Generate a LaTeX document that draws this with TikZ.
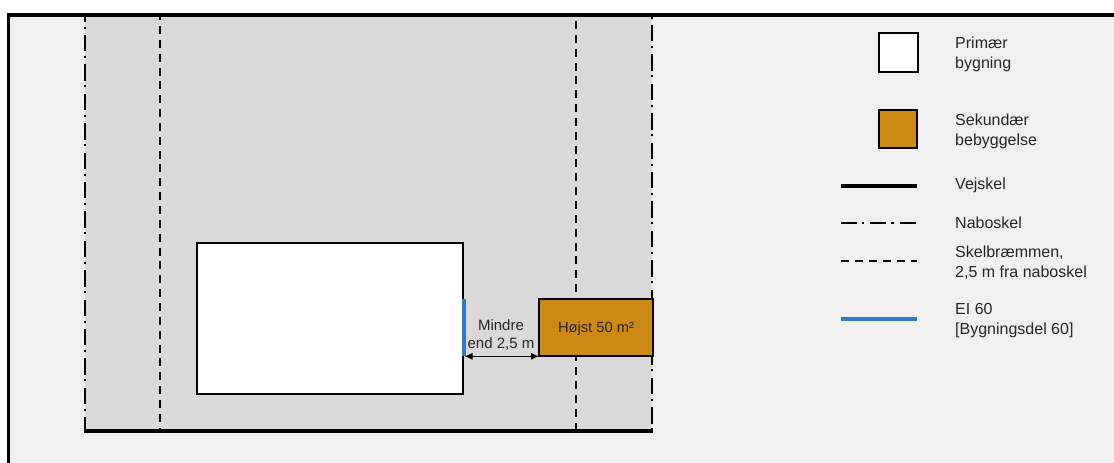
\documentclass[tikz,border=0pt]{standalone}
\usepackage{fontspec}
\setmainfont{Liberation Sans}
\usetikzlibrary{arrows.meta}
\definecolor{bgpale}{HTML}{F0F0F0}
\definecolor{plotgray}{HTML}{D9D9D9}
\definecolor{ochre}{HTML}{CC8A14}
\definecolor{elblue}{HTML}{2E7BC4}
\definecolor{txt}{HTML}{262626}
\tikzset{
  x=1pt,y=-1pt,
  boxp/.style={draw=black,line width=2pt,fill=white,inner sep=0pt,outer sep=0pt},
  boxs/.style={draw=black,line width=2.2pt,fill=ochre,inner sep=0pt,outer sep=0pt},
  lab/.style={font=\fontsize{16}{19.6}\selectfont,text=txt,anchor=west,align=left,inner sep=0pt},
  vejline/.style={line width=3.8pt},
  naboline/.style={line width=2.2pt,dash pattern=on 16.3pt off 4.6pt on 2pt off 6.5pt},
  skelline/.style={line width=2.2pt,dash pattern=on 8pt off 5.85pt},
  naboleg/.style={line width=1.9pt,dash pattern=on 16pt off 5pt on 2.3pt off 6pt},
  skelleg/.style={line width=1.9pt,dash pattern=on 7.7pt off 6.3pt},
  elline/.style={color=elblue,line width=3.4pt},
  dimline/.style={{Latex[length=8pt,width=7pt]}-{Latex[length=8pt,width=7pt]},line width=1.1pt}
}
\begin{document}
\begin{tikzpicture}
\useasboundingbox (0,0) rectangle (1114,463);
\fill[white] (0,0) rectangle (1114,463);
\fill[bgpale] (8.5,14.8) rectangle (1114,463);
\fill[plotgray] (85,16) rectangle (652,431);
% frame
\draw[line width=3.7pt,line cap=rect] (8.5,463) -- (8.5,14.8) -- (1114,14.8);
% plot lines
\coordinate (nlt) at (85,16); \coordinate (nlb) at (85,431);
\coordinate (nrt) at (652,16); \coordinate (nrb) at (652,431);
\coordinate (slt) at (160,16); \coordinate (slb) at (160,431);
\coordinate (srt) at (576,16); \coordinate (srb) at (576,431);
\draw[naboline,dash phase=10.4pt] (nlt) -- (nlb);
\draw[naboline,dash phase=20.4pt] (nrt) -- (nrb);
\draw[skelline,dash phase=3.9pt] (slt) -- (slb);
\draw[skelline,dash phase=8.9pt] (srt) -- (srb);
\draw[vejline] (83.5,431.3) -- (653,431.3);
% buildings
\node[boxp,minimum width=266pt,minimum height=151pt] (prim) at (330,318.5) {};
\node[boxs,minimum width=114pt,minimum height=57pt] (sek) at (596,327.5) {};
\node[lab,anchor=center,font=\fontsize{14.7}{18}\selectfont] (h50) at (596,329) {Højst 50 m²};
\coordinate (ela) at (464,299.3); \coordinate (elb) at (464,356);
\draw[elline] (ela) -- (elb);
\coordinate (da) at (464.5,356.3); \coordinate (db) at (539,356.3);
\draw[dimline] (da) -- (db);
\node[lab,anchor=center,align=center,font=\fontsize{15}{18.2}\selectfont] (mindre) at (501,335.3) {Mindre\\end 2,5 m};
% legend
\node[boxp,minimum width=39pt,minimum height=39pt] (lp) at (898.5,52.5) {};
\node[boxs,minimum width=38pt,minimum height=38pt] (ls) at (898,129) {};
\node[lab] (tp) at (955,54.5) {Primær\\bygning};
\node[lab] (ts) at (955,131.5) {Sekundær\\bebyggelse};
\node[lab] (tv) at (955,185.5) {Vejskel};
\node[lab] (tn) at (955,222.7) {Naboskel};
\node[lab] (tk) at (955,262.5) {Skelbræmmen,\\2,5 m fra naboskel};
\node[lab] (te) at (955,320.5) {EI 60\\{[Bygningsdel 60]}};
\coordinate (a1) at (841,186); \coordinate (a2) at (917,186);
\coordinate (b1) at (841,223); \coordinate (b2) at (917,223);
\coordinate (c1) at (841,261); \coordinate (c2) at (917,261);
\coordinate (d1) at (841,318.5); \coordinate (d2) at (917,318.5);
\draw[vejline] (a1) -- (a2);
\draw[naboleg] (b1) -- (b2);
\draw[skelleg] (c1) -- (c2);
\draw[elline,line width=4pt] (d1) -- (d2);
\end{tikzpicture}
\end{document}
